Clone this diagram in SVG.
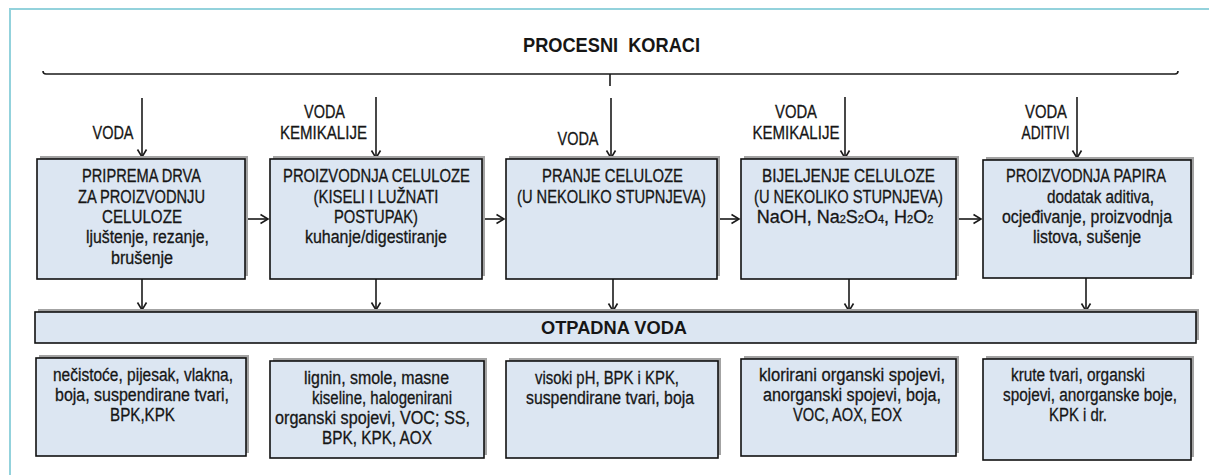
<svg xmlns="http://www.w3.org/2000/svg" width="1209" height="475" viewBox="0 0 1209 475">
<style>
  .box { fill: #dce6f2; stroke: #111; stroke-width: 1.6; }
  .sh { fill: #a3a3a3; }
  .t { font-family: "Liberation Sans", Arial, sans-serif; font-size: 18px; fill: #161616; stroke: #161616; stroke-width: 0.3; text-anchor: middle; }
  .b { font-family: "Liberation Sans", Arial, sans-serif; font-weight: bold; fill: #161616; text-anchor: middle; }
  .sub { font-size: 11px; }
  .ln { fill: none; stroke: #1a1a1a; stroke-width: 1.6; }
</style>
<defs>
  <marker id="ah" markerUnits="userSpaceOnUse" markerWidth="12" markerHeight="12" refX="9" refY="6" orient="auto">
    <path d="M1.5,1.5 L9,6 L1.5,10.5" fill="none" stroke="#1a1a1a" stroke-width="1.6"/>
  </marker>
</defs>
<rect width="1209" height="475" fill="#fff"/>
<rect x="10" y="9" width="1300" height="600" fill="none" stroke="#93d2dc" stroke-width="2"/>

<g id="title">
  <text class="b" x="611.5" y="52" font-size="21" textLength="177" lengthAdjust="spacingAndGlyphs" xml:space="preserve">PROCESNI  KORACI</text>
</g>

<g id="connectors">
  <path class="ln" d="M43,71 Q43,74 46,74 L1175,74 Q1178,74 1178,71" stroke-width="2"/>
  <path class="ln" d="M610,74 L610,86" stroke-width="2"/>
  <path class="ln" d="M142,98 L142,157" marker-end="url(#ah)"/>
  <path class="ln" d="M376,97 L376,158" marker-end="url(#ah)"/>
  <path class="ln" d="M611,98 L611,158" marker-end="url(#ah)"/>
  <path class="ln" d="M845,97 L845,158" marker-end="url(#ah)"/>
  <path class="ln" d="M1077,97 L1077,158" marker-end="url(#ah)"/>
  <path class="ln" d="M245,219 L268,219" marker-end="url(#ah)"/>
  <path class="ln" d="M482,219 L504,219" marker-end="url(#ah)"/>
  <path class="ln" d="M717,219 L739,219" marker-end="url(#ah)"/>
  <path class="ln" d="M956,219 L981,219" marker-end="url(#ah)"/>
  <path class="ln" d="M142,279 L142,310" marker-end="url(#ah)"/>
  <path class="ln" d="M376,279 L376,310" marker-end="url(#ah)"/>
  <path class="ln" d="M613,279 L613,311" marker-end="url(#ah)"/>
  <path class="ln" d="M849,279 L849,311" marker-end="url(#ah)"/>
  <path class="ln" d="M1086,278 L1086,311" marker-end="url(#ah)"/>
</g>

<g id="input-labels">
  <text class="t" x="113" y="139" textLength="41" lengthAdjust="spacingAndGlyphs">VODA</text>
  <text class="t" x="324.5" y="118" textLength="41" lengthAdjust="spacingAndGlyphs">VODA</text>
  <text class="t" x="323.5" y="139" textLength="87" lengthAdjust="spacingAndGlyphs">KEMIKALIJE</text>
  <text class="t" x="578" y="145" textLength="41" lengthAdjust="spacingAndGlyphs">VODA</text>
  <text class="t" x="796" y="118" textLength="42" lengthAdjust="spacingAndGlyphs">VODA</text>
  <text class="t" x="796" y="139" textLength="87" lengthAdjust="spacingAndGlyphs">KEMIKALIJE</text>
  <text class="t" x="1046" y="118" textLength="42" lengthAdjust="spacingAndGlyphs">VODA</text>
  <text class="t" x="1045.5" y="139" textLength="48" lengthAdjust="spacingAndGlyphs">ADITIVI</text>
</g>

<g id="step1">
  <rect class="sh" x="40" y="156" width="208" height="120"/>
  <rect class="box" x="37" y="159" width="208" height="120"/>
  <text class="t" x="141.5" y="182" textLength="119" lengthAdjust="spacingAndGlyphs">PRIPREMA DRVA</text>
  <text class="t" x="141.5" y="202.5" textLength="127" lengthAdjust="spacingAndGlyphs">ZA PROIZVODNJU</text>
  <text class="t" x="142" y="223" textLength="80" lengthAdjust="spacingAndGlyphs">CELULOZE</text>
  <text class="t" x="147.5" y="243" textLength="123" lengthAdjust="spacingAndGlyphs">ljuštenje, rezanje,</text>
  <text class="t" x="142" y="263.5" textLength="62" lengthAdjust="spacingAndGlyphs">brušenje</text>
</g>

<g id="step2">
  <rect class="sh" x="273" y="156" width="212" height="120"/>
  <rect class="box" x="270" y="159" width="212" height="120"/>
  <text class="t" x="376.5" y="182" textLength="187" lengthAdjust="spacingAndGlyphs">PROIZVODNJA CELULOZE</text>
  <text class="t" x="376" y="202.5" textLength="125" lengthAdjust="spacingAndGlyphs">(KISELI I LUŽNATI</text>
  <text class="t" x="376" y="223" textLength="84" lengthAdjust="spacingAndGlyphs">POSTUPAK)</text>
  <text class="t" x="376" y="243" textLength="142" lengthAdjust="spacingAndGlyphs">kuhanje/digestiranje</text>
</g>

<g id="step3">
  <rect class="sh" x="509" y="156" width="211" height="120"/>
  <rect class="box" x="506" y="159" width="211" height="120"/>
  <text class="t" x="612.5" y="182" textLength="141" lengthAdjust="spacingAndGlyphs">PRANJE CELULOZE</text>
  <text class="t" x="611.5" y="202.5" textLength="189" lengthAdjust="spacingAndGlyphs">(U NEKOLIKO STUPNJEVA)</text>
</g>

<g id="step4">
  <rect class="sh" x="744" y="156" width="215" height="120"/>
  <rect class="box" x="741" y="159" width="215" height="120"/>
  <text class="t" x="848.5" y="181.5" textLength="173" lengthAdjust="spacingAndGlyphs">BIJELJENJE CELULOZE</text>
  <text class="t" x="848.5" y="202.5" textLength="189" lengthAdjust="spacingAndGlyphs">(U NEKOLIKO STUPNJEVA)</text>
  <text class="t" x="845" y="222.5" font-size="15.5">NaOH, Na<tspan class="sub">2</tspan>S<tspan class="sub">2</tspan>O<tspan class="sub">4</tspan>, H<tspan class="sub">2</tspan>O<tspan class="sub">2</tspan></text>
</g>

<g id="step5">
  <rect class="sh" x="986" y="157" width="208" height="118"/>
  <rect class="box" x="983" y="160" width="208" height="118"/>
  <text class="t" x="1086" y="181.5" textLength="160" lengthAdjust="spacingAndGlyphs">PROIZVODNJA PAPIRA</text>
  <text class="t" x="1100.5" y="203" textLength="107" lengthAdjust="spacingAndGlyphs">dodatak aditiva,</text>
  <text class="t" x="1087" y="222.5" textLength="170" lengthAdjust="spacingAndGlyphs">ocjeđivanje, proizvodnja</text>
  <text class="t" x="1087" y="243" textLength="108" lengthAdjust="spacingAndGlyphs">listova, sušenje</text>
</g>

<g id="otpadna-voda">
  <rect class="sh" x="38" y="309" width="1161" height="31"/>
  <rect class="box" x="35" y="312" width="1161" height="31"/>
  <text class="b" x="614" y="334" font-size="19" textLength="146" lengthAdjust="spacingAndGlyphs">OTPADNA VODA</text>
</g>

<g id="waste1">
  <rect class="sh" x="39" y="355" width="210" height="98"/>
  <rect class="box" x="36" y="358" width="210" height="98"/>
  <text class="t" x="143" y="381" textLength="180" lengthAdjust="spacingAndGlyphs">nečistoće, pijesak, vlakna,</text>
  <text class="t" x="142" y="401" textLength="174" lengthAdjust="spacingAndGlyphs">boja, suspendirane tvari,</text>
  <text class="t" x="142.5" y="421" textLength="65" lengthAdjust="spacingAndGlyphs">BPK,KPK</text>
</g>

<g id="waste2">
  <rect class="sh" x="273" y="358" width="214" height="97"/>
  <rect class="box" x="270" y="361" width="214" height="97"/>
  <text class="t" x="376.5" y="384" textLength="145" lengthAdjust="spacingAndGlyphs">lignin, smole, masne</text>
  <text class="t" x="382" y="404" textLength="140" lengthAdjust="spacingAndGlyphs">kiseline, halogenirani</text>
  <text class="t" x="372.5" y="424" textLength="195" lengthAdjust="spacingAndGlyphs">organski spojevi, VOC; SS,</text>
  <text class="t" x="377" y="444" textLength="110" lengthAdjust="spacingAndGlyphs">BPK, KPK, AOX</text>
</g>

<g id="waste3">
  <rect class="sh" x="509" y="358" width="212" height="97"/>
  <rect class="box" x="506" y="361" width="212" height="97"/>
  <text class="t" x="607" y="384" textLength="144" lengthAdjust="spacingAndGlyphs">visoki pH, BPK i KPK,</text>
  <text class="t" x="610" y="404" textLength="168" lengthAdjust="spacingAndGlyphs">suspendirane tvari, boja</text>
</g>

<g id="waste4">
  <rect class="sh" x="744" y="356" width="215" height="97"/>
  <rect class="box" x="741" y="359" width="215" height="97"/>
  <text class="t" x="852" y="380.5" textLength="186" lengthAdjust="spacingAndGlyphs">klorirani organski spojevi,</text>
  <text class="t" x="852" y="400.5" textLength="178" lengthAdjust="spacingAndGlyphs">anorganski spojevi, boja,</text>
  <text class="t" x="847.5" y="420.5" textLength="109" lengthAdjust="spacingAndGlyphs">VOC, AOX, EOX</text>
</g>

<g id="waste5">
  <rect class="sh" x="986" y="356" width="208" height="101"/>
  <rect class="box" x="983" y="359" width="208" height="101"/>
  <text class="t" x="1078" y="380.5" textLength="134" lengthAdjust="spacingAndGlyphs">krute tvari, organski</text>
  <text class="t" x="1090" y="400.5" textLength="174" lengthAdjust="spacingAndGlyphs">spojevi, anorganske boje,</text>
  <text class="t" x="1078" y="420.5" textLength="58" lengthAdjust="spacingAndGlyphs">KPK i dr.</text>
</g>
</svg>
